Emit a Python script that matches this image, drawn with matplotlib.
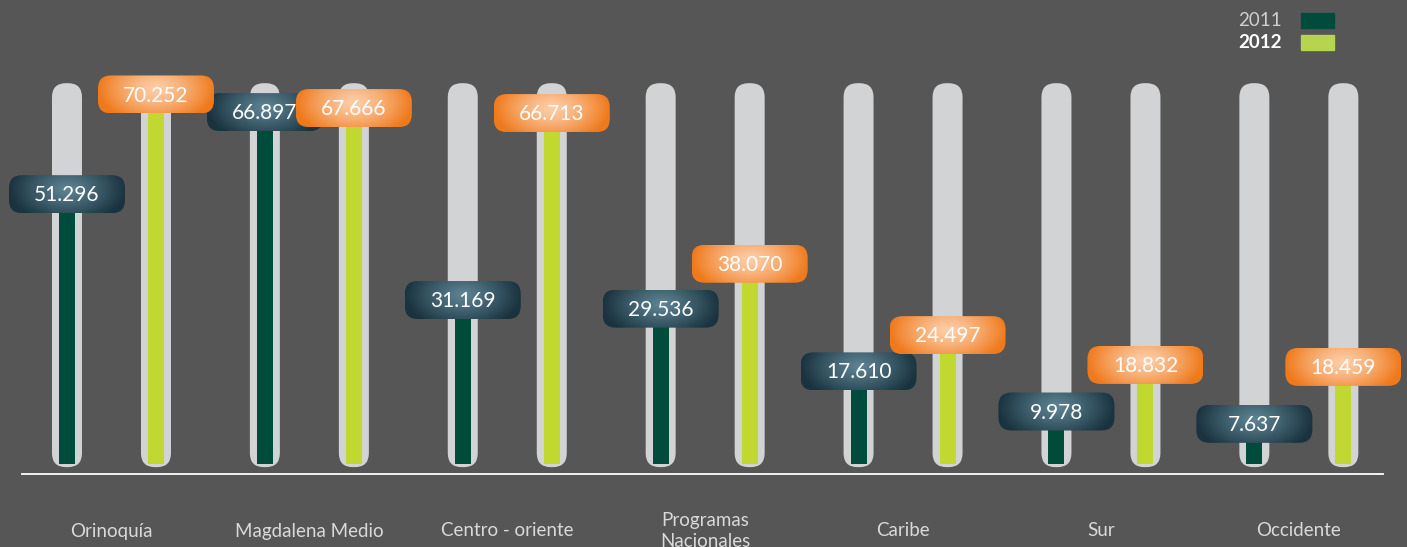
import numpy as np
import matplotlib
matplotlib.use("Agg")
import matplotlib.pyplot as plt
from matplotlib.patches import FancyBboxPatch, Rectangle

plt.rcParams['font.family'] = ['Lato', 'DejaVu Sans']

# ---- data ----
categories = ["Orinoquía", "Magdalena Medio", "Centro - oriente",
              "Programas\nNacionales", "Caribe", "Sur", "Occidente"]
values_2011 = [51296, 66897, 31169, 29536, 17610, 9978, 7637]
values_2012 = [70252, 67666, 66713, 38070, 24497, 18832, 18459]
series_names = ["2011", "2012"]

# ---- style ----
BG = "#555655"
TRACK = "#d1d3d4"
C2011 = "#004c3c"
C2012 = "#c0d82f"
DARK_EDGE = np.array([0x1a, 0x33, 0x3f]) / 255
DARK_CENTER = np.array([0x5e, 0x84, 0x94]) / 255
OR_EDGE = np.array([0xef, 0x7a, 0x1c]) / 255
OR_CENTER = np.array([0xfd, 0xcd, 0xa8]) / 255

W, H = 1407, 547
fig = plt.figure(figsize=(W / 100, H / 100), dpi=100, facecolor=BG)
ax = fig.add_axes([0, 0, 1, 1])
ax.set_facecolor(BG)
ax.axis("off")

XL = (-0.5633, 6.5465)
YL = (-15.78, 88.21)  # thousands
ax.set_xlim(*XL)
ax.set_ylim(*YL)
ax.set_autoscale_on(False)
ppx = W / (XL[1] - XL[0])   # pixels per x unit
ppy = H / (YL[1] - YL[0])   # pixels per y unit

def rbox(xc, y0, wpx, y1, rpx, **kw):
    w = wpx / ppx
    p = FancyBboxPatch((xc - w / 2, y0), w, y1 - y0,
                       boxstyle=f"round,pad=0,rounding_size={rpx / ppx}",
                       mutation_aspect=ppx / ppy, **kw)
    ax.add_patch(p)
    return p

off = 44.5 / ppx
track_top = 72.4
track_bot = -0.6

ny, nx = 60, 180
yy, xx = np.mgrid[-1:1:ny * 1j, -1:1:nx * 1j]
rr = np.clip(np.sqrt(xx ** 2 + ((yy - 0.25) * 0.55) ** 2), 0, 1)

def pill(xc, yc, text, kind):
    wpx, hpx = 116, 38
    h = hpx / ppy
    w = wpx / ppx
    p = rbox(xc, yc - h / 2, wpx, yc + h / 2, 13, facecolor="none",
             edgecolor="none", zorder=5)
    if kind == 0:
        c0, c1, g = DARK_CENTER, DARK_EDGE, 1.1
    else:
        c0, c1, g = OR_CENTER, OR_EDGE, 1.3
    t = rr ** g
    img = c0[None, None, :] + (c1 - c0)[None, None, :] * t[..., None]
    im = ax.imshow(img, extent=[xc - w / 2, xc + w / 2, yc - h / 2, yc + h / 2],
                   aspect="auto", interpolation="bilinear", zorder=5, origin="lower")
    im.set_clip_path(p)
    ax.text(xc, yc - 0.2, text, color="white", fontsize=15, ha="center",
            va="center", zorder=6)

x = np.arange(len(categories))
for s, vals in enumerate([values_2011, values_2012]):
    xs = x + (-off if s == 0 else off)
    v = np.array(vals) / 1000.0
    for xi in xs:
        rbox(xi, track_bot, 30, track_top, 14, facecolor=TRACK, edgecolor="none", zorder=1)
    ax.bar(xs, v, width=16 / ppx, bottom=0, color=C2011 if s == 0 else C2012,
           zorder=2)
    for xi, vi, raw in zip(xs, v, vals):
        lab = f"{raw / 1000:.3f}"
        pill(xi, vi, lab, s)

# baseline
ax.axhline(-1.9, xmin=22 / W, xmax=1383 / W, color="white", lw=1.3, zorder=3)

# category labels
for xi, c in zip(x, categories):
    ax.text(xi, 1 - 531 / H, c, transform=ax.get_xaxis_transform(), color="#d9d9d9",
            fontsize=13.5, ha="center", va="center", linespacing=1.3)

# legend
fig.text(1282 / W, 1 - 20 / H, series_names[0], color="#cfcfcf", fontsize=13.5,
         ha="right", va="center", fontweight="normal")
fig.text(1282 / W, 1 - 42 / H, series_names[1], color="white", fontsize=13.5,
         ha="right", va="center", fontweight="bold")
fig.patches.append(Rectangle((1301 / W, 1 - 28 / H), 33 / W, 15 / H,
                             transform=fig.transFigure, color=C2011))
fig.patches.append(Rectangle((1301 / W, 1 - 50 / H), 33 / W, 15 / H,
                             transform=fig.transFigure, color="#b6d44e"))

fig.savefig("out.png", dpi=100, facecolor=BG)
